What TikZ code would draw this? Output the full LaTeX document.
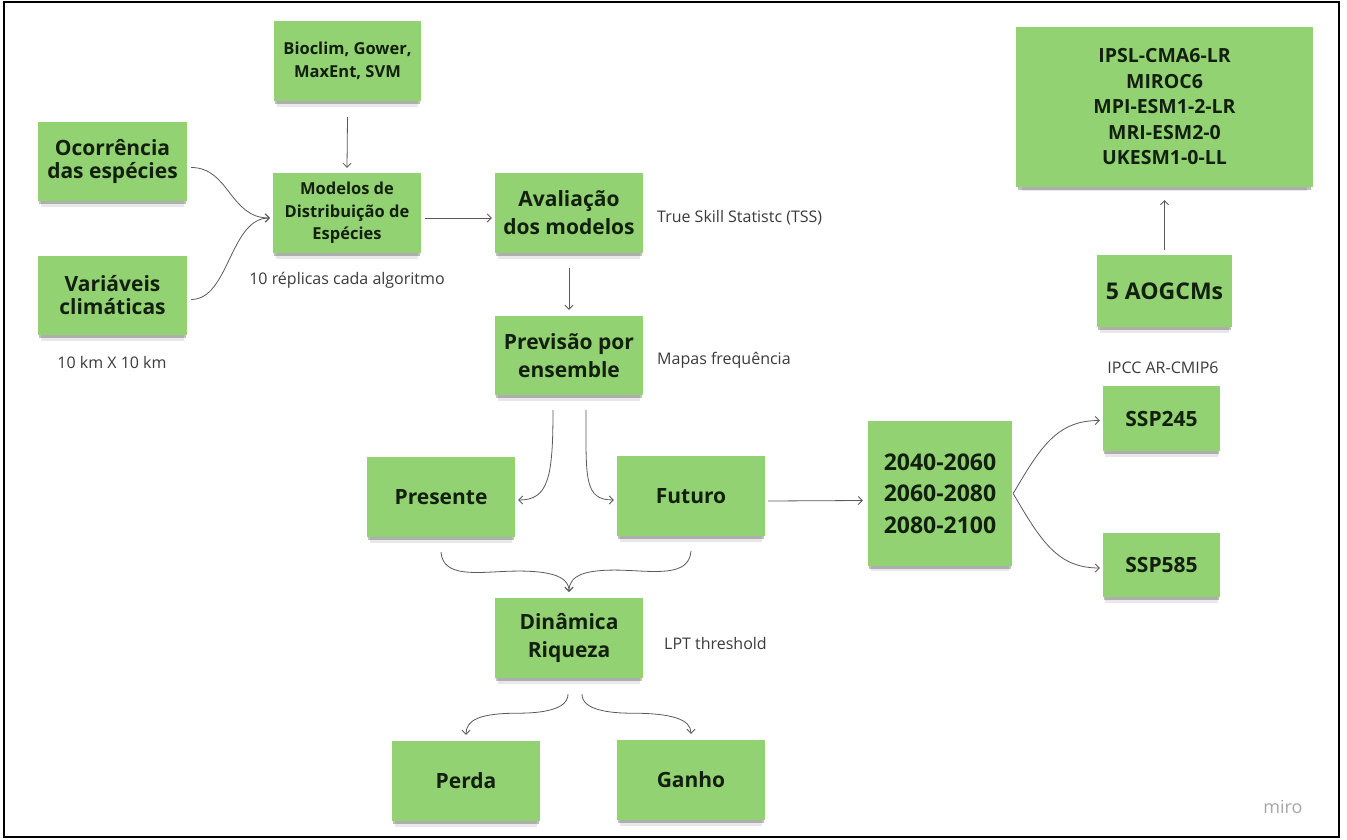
\documentclass[tikz,border=0pt]{standalone}
\usepackage{fontspec}
\setmainfont{Open Sans}
\usetikzlibrary{arrows.meta,shadows}
\definecolor{stickygreen}{HTML}{92D272}
\definecolor{inkgreen}{HTML}{132010}
\definecolor{linegray}{HTML}{595959}
\definecolor{lblgray}{HTML}{3A3A3A}

\begin{document}
\begin{tikzpicture}[x=1pt,y=-1pt,>={Straight Barb[length=4pt,width=8pt]},
  note/.style={fill=stickygreen,text=inkgreen,align=center,inner sep=2pt,
    general shadow={shadow yshift=-4pt,shadow scale=.985,fill=black,opacity=.25},
    general shadow={shadow yshift=-8pt,shadow scale=.96,fill=black,opacity=.09}},
  sz/.style 2 args={font=\bfseries\fontsize{#1}{#2}\selectfont},
  lbl/.style={text=lblgray,inner sep=0pt,font=\fontsize{16}{19}\selectfont},
  arr/.style={->,draw=linegray,line width=.8pt}]
\useasboundingbox (0,0) rectangle (1347,840);
\draw[line width=1.2pt] (4,2) rectangle (1339,837);
% sticky notes
\node[note,sz={16.5}{22.5},minimum width=147pt,minimum height=80pt] (bio) at (347.5,61){Bioclim, Gower,\\MaxEnt, SVM};
\node[note,sz={21}{23},minimum width=149pt,minimum height=79pt] (oc) at (112.5,161.5){Ocorrência\\das espécies};
\node[note,sz={21}{23},minimum width=149pt,minimum height=79pt] (var) at (112.5,295.5){Variáveis\\climáticas};
\node[note,sz={16.5}{22.5},minimum width=148pt,minimum height=80pt] (sdm) at (347,213){Modelos de\\Distribuição de\\Espécies};
\node[note,sz={21}{28},minimum width=148pt,minimum height=80pt] (aval) at (569,213){Avaliação\\dos modelos};
\node[note,sz={21}{28},minimum width=148pt,minimum height=79pt] (prev) at (569,355.5){Previsão por\\ensemble};
\node[note,sz={21}{28},minimum width=148pt,minimum height=80pt] (pres) at (441,497){Presente};
\node[note,sz={21}{28},minimum width=148pt,minimum height=80pt] (fut) at (691,496){Futuro};
\node[note,sz={21}{28},minimum width=148pt,minimum height=80pt] (din) at (569,638){Dinâmica\\Riqueza};
\node[note,sz={21}{28},minimum width=148pt,minimum height=80pt] (perda) at (466,781){Perda};
\node[note,sz={21}{28},minimum width=148pt,minimum height=80pt] (ganho) at (691,780){Ganho};
\node[note,sz={23}{31.5},minimum width=144pt,minimum height=145pt] (yrs) at (940,493.5){2040-2060\\2060-2080\\2080-2100};
\node[note,sz={21}{28},minimum width=117pt,minimum height=65pt] (ssp245) at (1161.5,418.5){SSP245};
\node[note,sz={21}{28},minimum width=117pt,minimum height=64pt] (ssp585) at (1161.5,565){SSP585};
\node[note,sz={19.5}{25.5},minimum width=297pt,minimum height=160pt] (gcm) at (1164.5,107){IPSL-CMA6-LR\\MIROC6\\MPI-ESM1-2-LR\\MRI-ESM2-0\\UKESM1-0-LL};
\node[note,sz={23}{28},minimum width=135pt,minimum height=72pt] (aogcm) at (1164.5,291){5 AOGCMs};
% notes beside the boxes
\node[lbl] (rep) at (347,280){10 réplicas cada algoritmo};
\node[lbl] (km) at (112,362){10 km X 10 km};
\node[lbl,anchor=west] (tss) at (657,218){True Skill Statistc (TSS)};
\node[lbl,anchor=west] (mapas) at (657,360){Mapas frequência};
\node[lbl,anchor=west] (lpt) at (664,643){LPT threshold};
\node[lbl] (ipcc) at (1163,368){IPCC AR-CMIP6};
\node[text=black!35,font=\fontsize{18}{20}\selectfont] (miro) at (1283,807){miro};
% connectors
\draw[arr] ([yshift=-16pt]bio.south) -- ([yshift=5pt]sdm.north);
\draw[arr] ([xshift=4pt,yshift=-6pt]oc.east) .. controls +(38,0) and +(-40,0) .. ([xshift=-3pt,yshift=-5pt]sdm.west);
\draw[arr] ([xshift=4pt,yshift=-4pt]var.east) .. controls +(38,0) and +(-40,0) .. ([xshift=-3pt,yshift=-5pt]sdm.west);
\draw[arr] ([xshift=4pt,yshift=-5pt]sdm.east) -- ([xshift=-3pt,yshift=-5pt]aval.west);
\draw[arr] ([yshift=-15pt]aval.south) -- ([yshift=6pt]prev.north);
\draw[arr] ([xshift=-16pt,yshift=-15pt]prev.south) .. controls +(0,68) and +(30,0) .. ([xshift=3pt,yshift=-3pt]pres.east);
\draw[arr] ([xshift=17pt,yshift=-15pt]prev.south) .. controls +(0,68) and +(-30,0) .. ([xshift=-3pt,yshift=-4pt]fut.west);
\draw[arr] ([xshift=3pt,yshift=-5pt]fut.east) -- ([xshift=-5pt,yshift=-7pt]yrs.west);
\draw[arr] ([xshift=1pt]yrs.east) .. controls +(28,-48) and +(-42,0) .. ([xshift=-3pt,yshift=-2pt]ssp245.west);
\draw[arr] ([xshift=1pt]yrs.east) .. controls +(28,48) and +(-42,0) .. ([xshift=-3pt,yshift=-3pt]ssp585.west);
\draw[arr] ([yshift=5pt]aogcm.north) -- ([yshift=-13pt]gcm.south);
\draw[arr] ([yshift=-15pt]pres.south) .. controls +(2,26) and +(-32,1) .. +(69,19) .. controls +(36,-1) and +(0,-17) .. ([yshift=6pt]din.north);
\draw[arr] ([yshift=-15pt]fut.south) .. controls +(-2,26) and +(32,1) .. +(-69,19) .. controls +(-36,-1) and +(0,-17) .. ([yshift=6pt]din.north);
\draw[arr] ([xshift=-1pt,yshift=-16pt]din.south) .. controls +(0,16) and +(22,0) .. +(-50,19) .. controls +(-38,0) and +(0,-15) .. ([yshift=6pt]perda.north);
\draw[arr] ([xshift=13pt,yshift=-16pt]din.south) .. controls +(0,16) and +(-22,0) .. +(50,19) .. controls +(38,0) and +(0,-15) .. ([yshift=6pt]ganho.north);
\end{tikzpicture}
\end{document}
